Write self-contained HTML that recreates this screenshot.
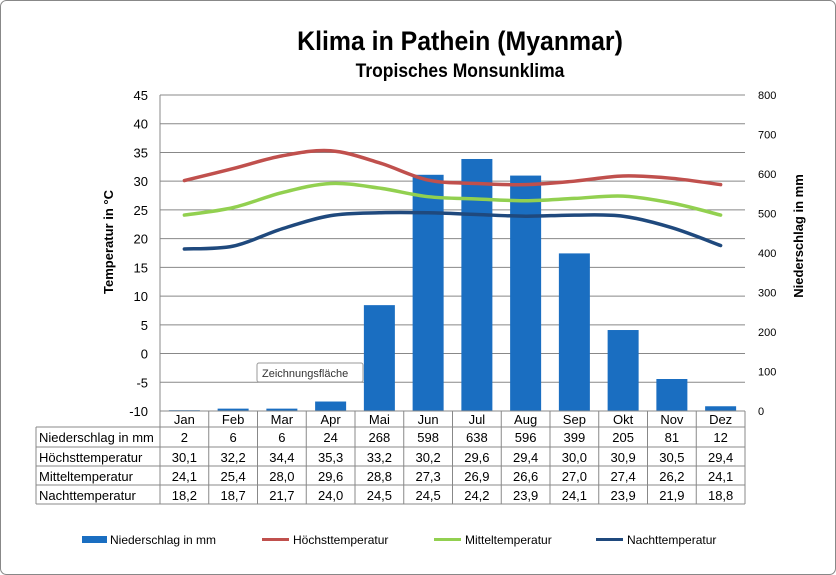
<!DOCTYPE html>
<html><head><meta charset="utf-8"><style>
body{margin:0;background:#fff}
svg{display:block;font-family:"Liberation Sans",Arial,sans-serif}
</style></head><body>
<svg id="s" width="836" height="575" xmlns="http://www.w3.org/2000/svg">
<rect x="0.5" y="0.5" width="835" height="574" rx="6" fill="#fff" stroke="#888"/>
<text x="460" y="50" text-anchor="middle" font-size="27" font-weight="bold" transform="translate(460,0) scale(0.92,1) translate(-460,0)">Klima in Pathein (Myanmar)</text>
<text x="460" y="77" text-anchor="middle" font-size="19" font-weight="bold" transform="translate(460,0) scale(0.92,1) translate(-460,0)">Tropisches Monsunklima</text>
<g id="grid"></g>
<g id="bars"></g>
<g id="lines"></g>
<g id="tbl" font-size="13"></g>
<text transform="translate(113,242) rotate(-90)" text-anchor="middle" font-size="13" font-weight="bold">Temperatur in °C</text>
<text transform="translate(803,236) rotate(-90)" text-anchor="middle" font-size="13" font-weight="bold">Niederschlag in mm</text>
<rect x="257" y="363" width="106" height="19" fill="#fff" stroke="#999" rx="2"/>
<text x="262" y="377" font-size="11" fill="#333">Zeichnungsfläche</text>
<g font-size="12">
<rect x="82" y="536" width="25" height="7" fill="#1a6ec1"/><text x="110" y="544">Niederschlag in mm</text>
<line x1="262" y1="539.5" x2="289" y2="539.5" stroke="#c0504d" stroke-width="3"/><text x="293" y="544">Höchsttemperatur</text>
<line x1="434" y1="539.5" x2="461" y2="539.5" stroke="#92d050" stroke-width="3"/><text x="465" y="544">Mitteltemperatur</text>
<line x1="596" y1="539.5" x2="623" y2="539.5" stroke="#1f497d" stroke-width="3"/><text x="627" y="544">Nachttemperatur</text>
</g>
</svg>
<script>
const NS="http://www.w3.org/2000/svg";
function el(p,t,a,txt){const e=document.createElementNS(NS,t);for(const k in a)e.setAttribute(k,a[k]);if(txt!==undefined)e.textContent=txt;document.getElementById(p).appendChild(e);return e;}
const L=160,R=745,T=95,B=411,cw=(R-L)/12;
const yT=v=>B-(v+10)*(B-T)/55, yP=v=>B-v*(B-T)/800;
for(let v=-10;v<=45;v+=5){const y=yT(v);el("grid","line",{x1:L,x2:R,y1:y,y2:y,stroke:"#888","stroke-width":1});el("grid","text",{x:148,y:y+5,"text-anchor":"end","font-size":13},v);}
for(let v=0;v<=800;v+=100){el("grid","text",{x:758,y:yP(v)+4,"font-size":11},v);}
el("grid","line",{x1:L,x2:L,y1:T,y2:B,stroke:"#888"});
const m=["Jan","Feb","Mar","Apr","Mai","Jun","Jul","Aug","Sep","Okt","Nov","Dez"];
const P=[2,6,6,24,268,598,638,596,399,205,81,12];
const H=[30.1,32.2,34.4,35.3,33.2,30.2,29.6,29.4,30.0,30.9,30.5,29.4];
const M=[24.1,25.4,28.0,29.6,28.8,27.3,26.9,26.6,27.0,27.4,26.2,24.1];
const N=[18.2,18.7,21.7,24.0,24.5,24.5,24.2,23.9,24.1,23.9,21.9,18.8];
P.forEach((p,i)=>{const cx=L+cw*(i+.5),y=yP(p);el("bars","rect",{x:cx-15.5,y:y,width:31,height:B-y,fill:"#1a6ec1"});});
function path(a,c){const pts=a.map((v,i)=>[L+cw*(i+.5),yT(v)]);let d="M"+pts[0];for(let i=0;i<pts.length-1;i++){const p0=pts[i-1]||pts[i],p1=pts[i],p2=pts[i+1],p3=pts[i+2]||p2;const t=6;d+=" C"+(p1[0]+(p2[0]-p0[0])/t)+","+(p1[1]+(p2[1]-p0[1])/t)+" "+(p2[0]-(p3[0]-p1[0])/t)+","+(p2[1]-(p3[1]-p1[1])/t)+" "+p2;}el("lines","path",{d:d,fill:"none",stroke:c,"stroke-width":3.5,"stroke-linecap":"round"});}
path(H,"#c0504d");path(M,"#92d050");path(N,"#1f497d");
const rows=[427,447,466,485,504];
el("tbl","line",{x1:L,x2:R,y1:B,y2:B,stroke:"#888"});
for(let i=0;i<=12;i++){const x=L+cw*i;el("tbl","line",{x1:x,x2:x,y1:B,y2:504,stroke:"#888"});}
el("tbl","line",{x1:36,x2:36,y1:427,y2:504,stroke:"#888"});
el("tbl","line",{x1:R,x2:R,y1:B,y2:504,stroke:"#888"});
rows.forEach((y)=>el("tbl","line",{x1:36,x2:R,y1:y,y2:y,stroke:"#888"}));
m.forEach((t,i)=>el("tbl","text",{x:L+cw*(i+.5),y:424,"text-anchor":"middle"},t));
const labels=["Niederschlag in mm","Höchsttemperatur","Mitteltemperatur","Nachttemperatur"];
const dataR=[P.map(String),H.map(v=>v.toFixed(1).replace(".",",")),M.map(v=>v.toFixed(1).replace(".",",")),N.map(v=>v.toFixed(1).replace(".",","))];
labels.forEach((lb,r)=>{const y=rows[r]+15;el("tbl","text",{x:39,y:y},lb);dataR[r].forEach((t,i)=>el("tbl","text",{x:L+cw*(i+.5),y:y,"text-anchor":"middle"},t));});
</script>
</body></html>
